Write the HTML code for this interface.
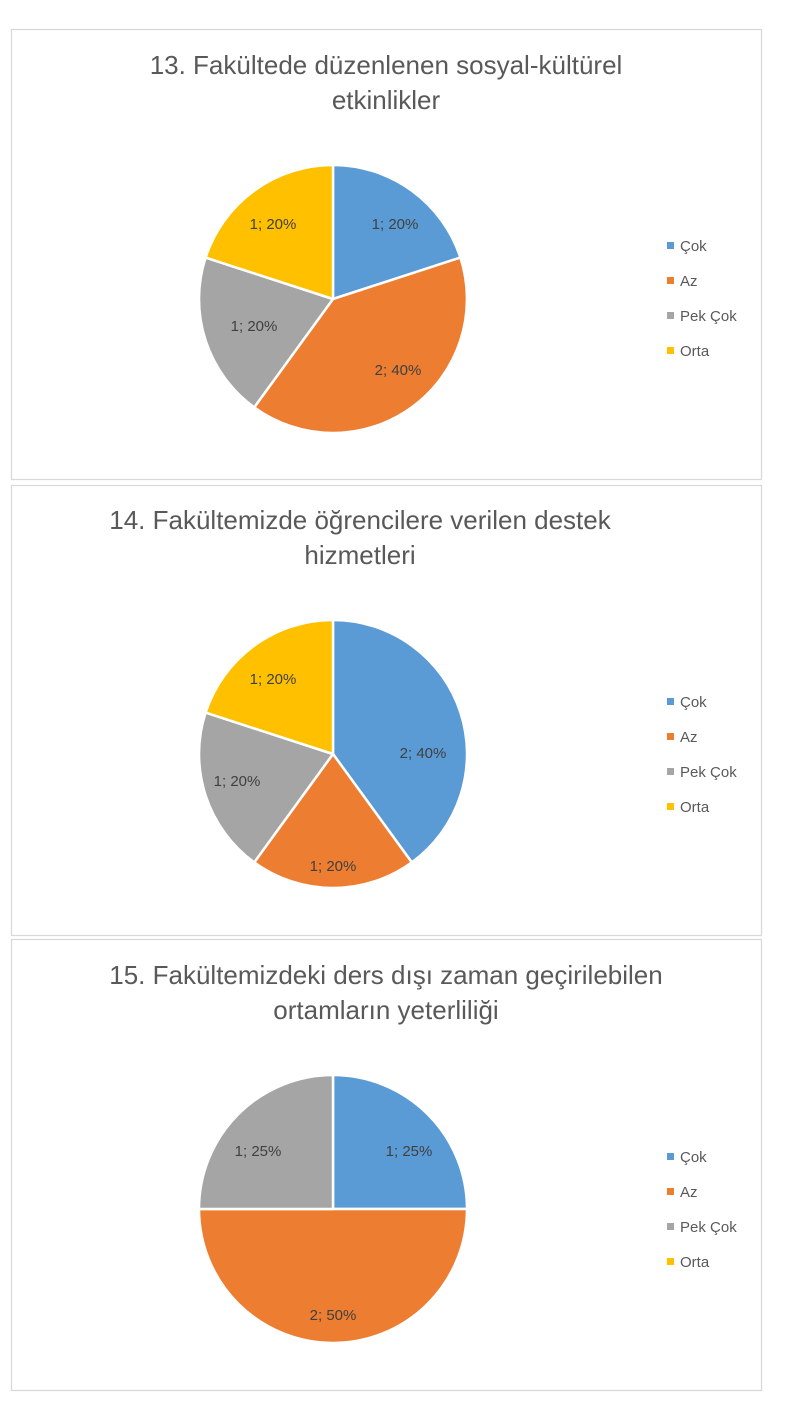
<!DOCTYPE html>
<html><head><meta charset="utf-8"><style>
body{margin:0;background:#fff;width:785px;height:1407px;overflow:hidden}
svg text{font-family:"Liberation Sans",sans-serif}
</style></head><body>
<svg width="785" height="1407" xmlns="http://www.w3.org/2000/svg">
<g stroke="#d9d9d9" fill="none" stroke-width="1.3">
<rect x="11.5" y="29.5" width="750" height="450"/>
<rect x="11.5" y="485.5" width="750" height="450"/>
<rect x="11.5" y="939.5" width="750" height="451"/>
</g>
<g font-size="26" fill="#595959" text-anchor="middle">
<text x="386" y="74">13. Fakültede düzenlenen sosyal-kültürel</text>
<text x="386" y="109">etkinlikler</text>
<text x="360" y="529">14. Fakültemizde öğrencilere verilen destek</text>
<text x="360" y="564">hizmetleri</text>
<text x="386" y="984">15. Fakültemizdeki ders dışı zaman geçirilebilen</text>
<text x="386" y="1019">ortamların yeterliliği</text>
</g>
<g stroke="#fff" stroke-width="2.5" stroke-linejoin="round">
<path d="M333,299 L333,165 A134,134 0 0 1 460.4,257.6 Z" fill="#5b9bd5"/>
<path d="M333,299 L460.4,257.6 A134,134 0 0 1 254.2,407.4 Z" fill="#ed7d31"/>
<path d="M333,299 L254.2,407.4 A134,134 0 0 1 205.6,257.6 Z" fill="#a5a5a5"/>
<path d="M333,299 L205.6,257.6 A134,134 0 0 1 333,165 Z" fill="#ffc000"/>

<path d="M333,754 L333,620 A134,134 0 0 1 411.8,862.4 Z" fill="#5b9bd5"/>
<path d="M333,754 L411.8,862.4 A134,134 0 0 1 254.2,862.4 Z" fill="#ed7d31"/>
<path d="M333,754 L254.2,862.4 A134,134 0 0 1 205.6,712.6 Z" fill="#a5a5a5"/>
<path d="M333,754 L205.6,712.6 A134,134 0 0 1 333,620 Z" fill="#ffc000"/>

<path d="M333,1209 L333,1075 A134,134 0 0 1 467,1209 Z" fill="#5b9bd5"/>
<path d="M333,1209 L467,1209 A134,134 0 0 1 199,1209 Z" fill="#ed7d31"/>
<path d="M333,1209 L199,1209 A134,134 0 0 1 333,1075 Z" fill="#a5a5a5"/>
</g>
<g font-size="15" fill="#404040" text-anchor="middle">
<text x="395" y="229">1; 20%</text>
<text x="398" y="375">2; 40%</text>
<text x="254" y="331">1; 20%</text>
<text x="273" y="229">1; 20%</text>
<text x="423" y="758">2; 40%</text>
<text x="333" y="871">1; 20%</text>
<text x="237" y="786">1; 20%</text>
<text x="273" y="684">1; 20%</text>
<text x="409" y="1156">1; 25%</text>
<text x="333" y="1320">2; 50%</text>
<text x="258" y="1156">1; 25%</text>
</g>
<g font-size="15" fill="#595959">
<rect x="667" y="242" width="7" height="7" fill="#5b9bd5"/><text x="680" y="251">Çok</text>
<rect x="667" y="277" width="7" height="7" fill="#ed7d31"/><text x="680" y="286">Az</text>
<rect x="667" y="312" width="7" height="7" fill="#a5a5a5"/><text x="680" y="321">Pek Çok</text>
<rect x="667" y="347" width="7" height="7" fill="#ffc000"/><text x="680" y="356">Orta</text>

<rect x="667" y="698" width="7" height="7" fill="#5b9bd5"/><text x="680" y="707">Çok</text>
<rect x="667" y="733" width="7" height="7" fill="#ed7d31"/><text x="680" y="742">Az</text>
<rect x="667" y="768" width="7" height="7" fill="#a5a5a5"/><text x="680" y="777">Pek Çok</text>
<rect x="667" y="803" width="7" height="7" fill="#ffc000"/><text x="680" y="812">Orta</text>

<rect x="667" y="1153" width="7" height="7" fill="#5b9bd5"/><text x="680" y="1162">Çok</text>
<rect x="667" y="1188" width="7" height="7" fill="#ed7d31"/><text x="680" y="1197">Az</text>
<rect x="667" y="1223" width="7" height="7" fill="#a5a5a5"/><text x="680" y="1232">Pek Çok</text>
<rect x="667" y="1258" width="7" height="7" fill="#ffc000"/><text x="680" y="1267">Orta</text>
</g>
</svg>
</body></html>
